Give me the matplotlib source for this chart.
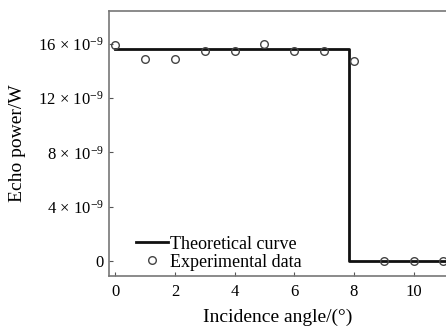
import numpy as np
import matplotlib.pyplot as plt
from matplotlib.ticker import FuncFormatter

plt.rcParams['font.family'] = ['Liberation Serif', 'DejaVu Serif']
plt.rcParams['mathtext.fontset'] = 'custom'
plt.rcParams['mathtext.rm'] = 'Liberation Serif'
plt.rcParams['mathtext.it'] = 'Liberation Serif:italic'

# ==== data (power in units of 1e-9 W) ====
theory_angle = [0, 7.85, 7.85, 11.5]
theory_power = [15.6, 15.6, 0, 0]

exp_angle = [0, 1, 2, 3, 4, 5, 6, 7, 8, 9, 10, 11]
exp_power = [15.9, 14.9, 14.9, 15.5, 15.5, 16.0, 15.5, 15.5, 14.7, 0, 0, 0]

y_ticks = [0, 4, 8, 12, 16]
x_ticks = [0, 2, 4, 6, 8, 10]

fig = plt.figure(figsize=(4.46, 3.27), dpi=100)
ax = fig.add_axes([0.245, 0.156, 0.756, 0.81])

ax.plot(theory_angle, theory_power, color='#111111', linewidth=2.0,
        label='Theoretical curve')
ax.plot(exp_angle, exp_power, linestyle='none', marker='o', markersize=5.5,
        markerfacecolor='none', markeredgecolor='#444444', markeredgewidth=1.0,
        clip_on=False, label='Experimental data')

ax.set_xlim(-0.2, 11.1)
ax.set_ylim(-1.1, 18.4)
ax.set_xticks(x_ticks)
ax.set_yticks(y_ticks)


def fmt(v, pos):
    if v == 0:
        return '0'
    return r'$%d\,\times\,10^{-9}$' % v


ax.yaxis.set_major_formatter(FuncFormatter(fmt))
ax.tick_params(direction='in', length=3, labelsize=12, color='#555555')
ax.tick_params(axis='x', pad=6)
ax.tick_params(axis='y', pad=4)
ax.spines['right'].set_visible(False)
for s in ['left', 'bottom', 'top']:
    ax.spines[s].set_color('#777777')
    ax.spines[s].set_linewidth(1.2)

ax.set_xlabel('Incidence angle/(°)', fontsize=14, labelpad=6)
ax.set_ylabel('Echo power/W', fontsize=14, labelpad=9)

ax.legend(loc='lower left', frameon=False, fontsize=13, handlelength=1.8,
          handletextpad=0.1, labelspacing=0.05, borderpad=0, borderaxespad=0,
          bbox_to_anchor=(0.078, 0.02))

fig.savefig('out.png', dpi=100)
